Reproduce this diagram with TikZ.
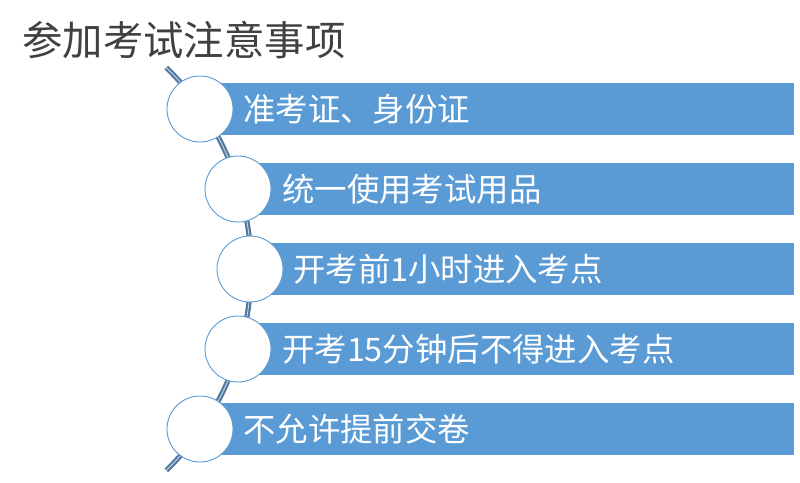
\documentclass[tikz,border=0pt]{standalone}
\usepackage{fontspec}
\usetikzlibrary{calc}
\newfontfamily\cjk{Noto Sans CJK SC}
\definecolor{barblue}{HTML}{5B9BD5}
\definecolor{titlegray}{HTML}{404040}
\definecolor{linedark}{HTML}{56789E}
\definecolor{linelight}{HTML}{C9DDF0}
\begin{document}
\begin{tikzpicture}[x=1pt,y=-1pt,
  bar/.style={fill=barblue,draw=none},
  dot/.style={circle,draw=barblue,line width=0.9pt,fill=white,minimum size=66pt,inner sep=0pt},
  lbl/.style={anchor=west,text=white,font=\cjk\fontsize{32.4}{32.4}\selectfont,inner sep=0pt},
  arcline/.style={draw=linedark,line width=2.2pt,double=linelight,double distance=0.8pt}]
\useasboundingbox (0,0) rectangle (800,482);
\node[anchor=west,text=titlegray,font=\cjk\fontsize{40.4}{40.4}\selectfont,inner sep=0pt] (title) at (22,40) {参加考试注意事项};
% arc
\coordinate (ac) at (-31,269);
\coordinate (as) at ($(ac)+(-45.6:282)$);
\draw[arcline] (as) arc[start angle=-45.6,end angle=45.6,radius=282];
% bars
\foreach \i/\x/\y in {1/200/109,2/238/189,3/250/269,4/238/349,5/200/429}{
  \path[bar] (\x,\y-26) rectangle (794,\y+26);
  \node[dot] (c\i) at (\x,\y) {};
}
\node[lbl] (t1) at (243,109) {准考证、身份证};
\node[lbl] (t2) at (282,189) {统一使用考试用品};
\node[lbl] (t3) at (293,269) {开考前1小时进入考点};
\node[lbl] (t4) at (282,349) {开考15分钟后不得进入考点};
\node[lbl] (t5) at (243,429) {不允许提前交卷};
\end{tikzpicture}
\end{document}
